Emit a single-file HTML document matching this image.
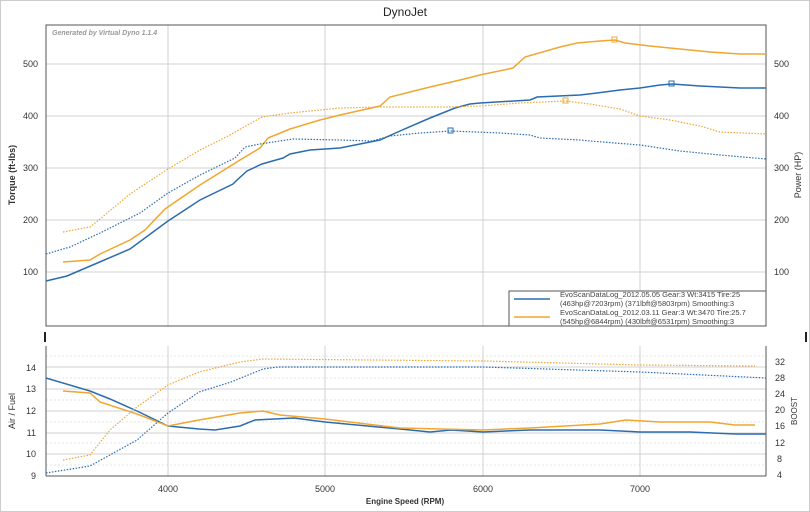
<!DOCTYPE html>
<html><head><meta charset="utf-8"><style>
body{margin:0;background:#fff;}
svg{display:block;font-family:"Liberation Sans",sans-serif;}
</style></head><body>
<svg width="810" height="512" viewBox="0 0 810 512">
<rect x="0.5" y="0.5" width="809" height="511" fill="#fff" stroke="#ccc"/>
<text x="405" y="16" font-size="12" text-anchor="middle" fill="#222">DynoJet</text>
<g stroke="#d0d0d0" stroke-width="1">
<line x1="46" x2="766" y1="64" y2="64"/><line x1="46" x2="766" y1="116" y2="116"/>
<line x1="46" x2="766" y1="168" y2="168"/><line x1="46" x2="766" y1="220" y2="220"/>
<line x1="46" x2="766" y1="272" y2="272"/>
<line x1="168" x2="168" y1="25" y2="326"/><line x1="325" x2="325" y1="25" y2="326"/>
<line x1="483" x2="483" y1="25" y2="326"/><line x1="640" x2="640" y1="25" y2="326"/>
</g>
<rect x="46" y="25" width="720" height="301" fill="none" stroke="#555"/>
<text x="52" y="35" font-size="7" font-style="italic" font-weight="bold" fill="#999">Generated by Virtual Dyno 1.1.4</text>
<g font-size="9" fill="#333">
<text x="38" y="67" text-anchor="end">500</text><text x="38" y="119" text-anchor="end">400</text>
<text x="38" y="171" text-anchor="end">300</text><text x="38" y="223" text-anchor="end">200</text>
<text x="38" y="275" text-anchor="end">100</text>
<text x="774" y="67">500</text><text x="774" y="119">400</text><text x="774" y="171">300</text>
<text x="774" y="223">200</text><text x="774" y="275">100</text>
</g>
<text transform="translate(15,175) rotate(-90)" font-size="9" font-weight="bold" text-anchor="middle" fill="#333">Torque (ft-lbs)</text>
<text transform="translate(801,175) rotate(-90)" font-size="9" text-anchor="middle" fill="#333">Power (HP)</text>
<g fill="none" stroke-width="1.5">
<polyline stroke="#2b6cb0" points="46,281 67,276 95,264 130,249 168,221 200,200 233,184 237,180 247,171 262,164 283,158 290,154 310,150 340,148 370,142 380,140 400,131 430,118 455,108 470,104 480,103 530,100 537,97 580,95 597,93 620,90 640,88 660,85 672,84 700,86 740,88 766,88"/>
<polyline stroke="#f0a630" points="63,262 90,260 100,254 130,240 145,230 165,209 200,185 240,160 260,148 268,138 290,129 320,120 340,115 380,106 390,97 410,92 430,87 460,80 480,75 513,68 525,57 560,47 577,43 600,41 615,40 625,43 650,46 680,49 710,52 740,54 766,54"/>
</g>
<g fill="none" stroke-width="1.2" stroke-dasharray="1.5,1.5">
<polyline stroke="#2b6cb0" points="46,254 70,247 100,233 140,213 168,193 200,175 235,158 245,147 260,144 293,139 340,140 372,141 390,136 420,133 451,131 500,133 530,135 540,138 580,140 590,141 640,145 680,151 720,155 766,159"/>
<polyline stroke="#f0a630" points="63,232 90,227 100,219 130,194 168,169 200,150 228,136 262,117 290,113 340,108 380,107 450,107 480,106 520,103 566,101 590,104 620,109 640,116 670,120 700,126 720,132 766,134"/>
</g>
<g fill="none" stroke-width="1">
<rect x="612" y="37" width="5" height="5" stroke="#f0a630"/><rect x="669" y="81" width="5" height="5" stroke="#2b6cb0"/>
<rect x="448" y="128" width="5" height="5" stroke="#2b6cb0"/><rect x="563" y="98" width="5" height="5" stroke="#f0a630"/>
</g>
<rect x="509" y="291" width="257" height="35" fill="#fff" stroke="#555"/>
<line x1="514" x2="550" y1="299" y2="299" stroke="#2b6cb0" stroke-width="1.5"/>
<line x1="514" x2="550" y1="317" y2="317" stroke="#f0a630" stroke-width="1.5"/>
<g font-size="7.5" fill="#444">
<text x="560" y="297">EvoScanDataLog_2012.05.05 Gear:3 Wt:3415 Tire:25</text>
<text x="560" y="306">(463hp@7203rpm) (371lbft@5803rpm) Smoothing:3</text>
<text x="560" y="315">EvoScanDataLog_2012.03.11 Gear:3 Wt:3470 Tire:25.7</text>
<text x="560" y="324">(545hp@6844rpm) (430lbft@6531rpm) Smoothing:3</text>
</g>
<rect x="44" y="332" width="2" height="10" fill="#222"/><rect x="805" y="332" width="2" height="10" fill="#222"/>
<g stroke="#e4e4e4" stroke-dasharray="2,2">
<line x1="46" x2="766" y1="356" y2="356"/><line x1="46" x2="766" y1="378" y2="378"/><line x1="46" x2="766" y1="400" y2="400"/><line x1="46" x2="766" y1="422" y2="422"/><line x1="46" x2="766" y1="443" y2="443"/><line x1="46" x2="766" y1="465" y2="465"/>
</g>
<g stroke="#d0d0d0">
<line x1="46" x2="766" y1="367" y2="367"/><line x1="46" x2="766" y1="389" y2="389"/><line x1="46" x2="766" y1="411" y2="411"/><line x1="46" x2="766" y1="433" y2="433"/><line x1="46" x2="766" y1="454" y2="454"/>
<line x1="168" x2="168" y1="346" y2="476"/><line x1="325" x2="325" y1="346" y2="476"/><line x1="483" x2="483" y1="346" y2="476"/><line x1="640" x2="640" y1="346" y2="476"/>
</g>
<line x1="46" x2="46" y1="346" y2="476" stroke="#555"/><line x1="766" x2="766" y1="346" y2="476" stroke="#555"/><line x1="46" x2="766" y1="476" y2="476" stroke="#555"/>
<g font-size="9" fill="#333">
<text x="36" y="371" text-anchor="end">14</text><text x="36" y="392" text-anchor="end">13</text><text x="36" y="414" text-anchor="end">12</text><text x="36" y="436" text-anchor="end">11</text><text x="36" y="457" text-anchor="end">10</text><text x="36" y="479" text-anchor="end">9</text>
<text x="775" y="365">32</text><text x="775" y="381">28</text><text x="775" y="397">24</text><text x="775" y="413">20</text><text x="775" y="429">16</text><text x="775" y="446">12</text><text x="777" y="462">8</text><text x="777" y="478">4</text>
<text x="168" y="492" text-anchor="middle">4000</text><text x="325" y="492" text-anchor="middle">5000</text><text x="483" y="492" text-anchor="middle">6000</text><text x="640" y="492" text-anchor="middle">7000</text>
</g>
<text x="405" y="504" font-size="8" font-weight="bold" text-anchor="middle" fill="#333">Engine Speed (RPM)</text>
<text transform="translate(15,411) rotate(-90)" font-size="9" text-anchor="middle" fill="#333">Air / Fuel</text>
<text transform="translate(797,411) rotate(-90)" font-size="8" text-anchor="middle" fill="#333">BOOST</text>
<g fill="none" stroke-width="1.5">
<polyline stroke="#2b6cb0" points="46,378 90,391 110,399 137,411 168,426 199,429 215,430 240,426 255,420 294,418 325,422 400,429 430,432 451,430 483,432 530,430 600,430 640,432 690,432 735,434 766,434"/>
<polyline stroke="#f0a630" points="63,391 90,393 100,402 137,414 168,426 199,420 240,413 263,411 280,415 325,419 400,428 483,430 530,428 600,424 626,420 660,422 710,422 735,425 755,425"/>
</g>
<g fill="none" stroke-width="1.2" stroke-dasharray="1.5,1.5">
<polyline stroke="#2b6cb0" points="46,473 90,466 137,440 168,413 199,392 231,382 263,369 278,367 483,367 640,372 766,378"/>
<polyline stroke="#f0a630" points="63,460 90,455 110,430 137,407 168,385 199,372 240,362 263,359 483,361 640,365 755,366"/>
</g>
</svg>
</body></html>
